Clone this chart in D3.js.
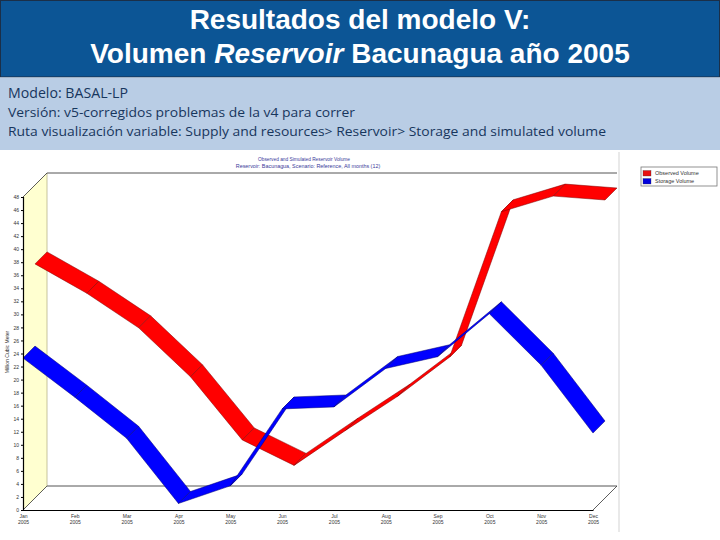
<!DOCTYPE html>
<html>
<head>
<meta charset="utf-8">
<script src="https://cdn.jsdelivr.net/npm/d3@7"></script>
<style>
  body { margin: 0; background: #fff; }
  svg { display: block; }
</style>
</head>
<body>
<div id="chart"></div>
<script>
// datos ----------------------------------------------------------------------------------
const months = ['Jan', 'Feb', 'Mar', 'Apr', 'May', 'Jun', 'Jul', 'Aug', 'Sep', 'Oct', 'Nov', 'Dec'];
const year = '2005';
const observed = [35.9, 31.4, 26.1, 18.6, 8.9, 5.0, 10.4, 15.6, 21.6, 43.9, 46.3, 45.7];
const storage = [23.3, 17.3, 11.0, 1.0, 3.7, 15.5, 15.8, 21.7, 23.5, 30.1, 22.2, 11.8];
const yTicks = d3.range(0, 49, 2);
const legendNames = ['Observed Volume', 'Storage Volume'];

const width = 720;
const height = 540;
const depth = 24;   // desplazamiento 3D

const svg = d3.select('#chart').append('svg')
  .attr('width', width)
  .attr('height', height);

// cabecera -------------------------------------------------------------------------------
svg.append('rect')
  .attr('x', 0.5).attr('y', 0.5).attr('width', width - 1).attr('height', 76.5)
  .attr('fill', '#0c5595')
  .attr('stroke', '#1b2f48').attr('stroke-width', 1);
svg.append('rect')
  .attr('x', 0).attr('y', 77.5).attr('width', width).attr('height', 72.5)
  .attr('fill', '#b9cde5');

const title = svg.append('g')
  .attr('font-family', 'Liberation Sans, Arial, sans-serif')
  .attr('font-size', '28px')
  .attr('font-weight', 'bold')
  .attr('fill', '#fff')
  .attr('text-anchor', 'middle');
title.append('text').attr('x', 360).attr('y', 28.5).text('Resultados del modelo V:');
const t2 = title.append('text').attr('x', 360).attr('y', 62.5);
t2.append('tspan').text('Volumen ');
t2.append('tspan').attr('font-style', 'italic').text('Reservoir');
t2.append('tspan').text(' Bacunagua año 2005');

const sub = svg.append('g')
  .attr('font-family', 'Open Sans, sans-serif')
  .attr('fill', '#17365d');
sub.append('text').attr('x', 8).attr('y', 98).attr('font-size', '14px')
  .attr('textLength', 120).attr('lengthAdjust', 'spacingAndGlyphs')
  .text('Modelo: BASAL-LP');
sub.append('text').attr('x', 8).attr('y', 117).attr('font-size', '13px')
  .attr('textLength', 347).attr('lengthAdjust', 'spacingAndGlyphs')
  .text('Versión: v5-corregidos problemas de la v4 para correr');
sub.append('text').attr('x', 8).attr('y', 136).attr('font-size', '13px')
  .attr('textLength', 598).attr('lengthAdjust', 'spacingAndGlyphs')
  .text('Ruta visualización variable: Supply and resources> Reservoir> Storage and simulated volume');

// escalas ---------------------------------------------------------------------------------
const xScale = d3.scalePoint().domain(months).range([23, 593]);
const yScale = d3.scaleLinear().domain([0, 48]).range([510, 197]);
const x0 = xScale.range()[0];
const x1 = xScale.range()[1];
const yTop = yScale(48);
const yBot = yScale(0);

// marco del grafico
svg.append('line')
  .attr('x1', x1 + depth + 2).attr('x2', x1 + depth + 2)
  .attr('y1', 152).attr('y2', 532)
  .attr('stroke', '#e2e2e2').attr('stroke-width', 1.5);

// titulo del grafico
const ct = svg.append('g')
  .attr('font-family', 'Liberation Sans, Arial, sans-serif')
  .attr('fill', '#3a3a9a')
  .attr('text-anchor', 'middle');
ct.append('text').attr('x', 304).attr('y', 161).attr('font-size', '4.8px')
  .text('Observed and Simulated Reservoir Volume');
ct.append('text').attr('x', 308).attr('y', 168).attr('font-size', '5.4px')
  .text('Reservoir: Bacunagua,  Scenario: Reference,  All months (12)');

// pared lateral amarilla
svg.append('path')
  .attr('d', `M${x0},${yTop}L${x0 + depth},${yTop - depth}L${x0 + depth},${yBot - depth}L${x0},${yBot}Z`)
  .attr('fill', '#ffffd0')
  .attr('stroke', 'none');
svg.append('line')
  .attr('x1', x0 + depth).attr('x2', x0 + depth)
  .attr('y1', yTop - depth).attr('y2', yBot - depth)
  .attr('stroke', '#b8b48a').attr('stroke-width', 0.8);
svg.append('line')
  .attr('x1', x0).attr('y1', yTop).attr('x2', x0 + depth).attr('y2', yTop - depth)
  .attr('stroke', '#333').attr('stroke-width', 0.8);
// pared del fondo
svg.append('line')
  .attr('x1', x0 + depth).attr('x2', x1 + depth)
  .attr('y1', yTop - depth).attr('y2', yTop - depth)
  .attr('stroke', '#555').attr('stroke-width', 1);
svg.append('line')
  .attr('x1', x0 + depth).attr('x2', x1 + depth)
  .attr('y1', yBot - depth).attr('y2', yBot - depth)
  .attr('stroke', '#555').attr('stroke-width', 1);
// suelo
svg.append('line')
  .attr('x1', x0).attr('y1', yBot).attr('x2', x0 + depth).attr('y2', yBot - depth)
  .attr('stroke', '#333').attr('stroke-width', 0.8);
svg.append('line')
  .attr('x1', x1).attr('y1', yBot).attr('x2', x1 + depth).attr('y2', yBot - depth)
  .attr('stroke', '#333').attr('stroke-width', 0.8);

// cintas 3D -------------------------------------------------------------------------------
const ribbon = (values, d0, d1, fill, stroke) => {
  const p = (i, d) => [xScale(months[i]) + d * depth, yScale(values[i]) - d * depth];
  const segs = d3.range(values.length - 1).map(i => [p(i, d0), p(i + 1, d0), p(i + 1, d1), p(i, d1)]);
  svg.append('g').selectAll('path')
    .data(segs)
    .enter()
    .append('path')
    .attr('d', d => 'M' + d.join('L') + 'Z')
    .attr('fill', fill)
    .attr('stroke', stroke)
    .attr('stroke-width', 0.5)
    .attr('stroke-linejoin', 'round');
};
ribbon(observed, 0.5, 1, '#ff0000', '#7a0000');
ribbon(storage, 0, 0.5, '#0000ff', '#00006e');

// ejes ------------------------------------------------------------------------------------
const yAxis = svg.append('g')
  .attr('transform', `translate(${x0},0)`)
  .call(d3.axisLeft(yScale).tickValues(yTicks).tickSize(2).tickPadding(2));
yAxis.select('.domain').attr('stroke', '#000').attr('stroke-width', 1.2);
yAxis.selectAll('text')
  .attr('font-family', 'Liberation Sans, Arial, sans-serif')
  .attr('font-size', '5px')
  .attr('fill', '#333');

const xAxis = svg.append('g')
  .attr('transform', `translate(0,${yBot})`)
  .call(d3.axisBottom(xScale).tickSize(0).tickPadding(4));
xAxis.select('.domain').attr('stroke', '#000').attr('stroke-width', 1.2);
xAxis.selectAll('text')
  .attr('font-family', 'Liberation Sans, Arial, sans-serif')
  .attr('font-size', '5px')
  .attr('fill', '#333')
  .each(function (d) {
    const t = d3.select(this).text('');
    t.append('tspan').attr('x', 0).text(d);
    t.append('tspan').attr('x', 0).attr('dy', '1.3em').text(year);
  });

svg.append('text')
  .attr('transform', 'translate(9,352) rotate(-90)')
  .attr('text-anchor', 'middle')
  .attr('font-family', 'Liberation Sans, Arial, sans-serif')
  .attr('font-size', '5px')
  .attr('fill', '#333')
  .text('Million Cubic Meter');

// leyenda ---------------------------------------------------------------------------------
const legend = svg.append('g').attr('transform', 'translate(641,167)');
legend.append('rect')
  .attr('width', 76).attr('height', 19)
  .attr('fill', '#fff').attr('stroke', '#777').attr('stroke-width', 0.8);
const li = legend.selectAll('.legend-item')
  .data(legendNames)
  .enter()
  .append('g')
  .attr('transform', (d, i) => `translate(2,${3.5 + i * 8})`);
li.append('rect')
  .attr('width', 8).attr('height', 5.5)
  .attr('fill', (d, i) => i === 0 ? '#e81010' : '#0000dd')
  .attr('stroke', '#333').attr('stroke-width', 0.3);
li.append('text')
  .attr('x', 12).attr('y', 4.8)
  .attr('font-family', 'Liberation Sans, Arial, sans-serif')
  .attr('font-size', '5.5px')
  .attr('fill', '#333')
  .text(d => d);
</script>
</body>
</html>
